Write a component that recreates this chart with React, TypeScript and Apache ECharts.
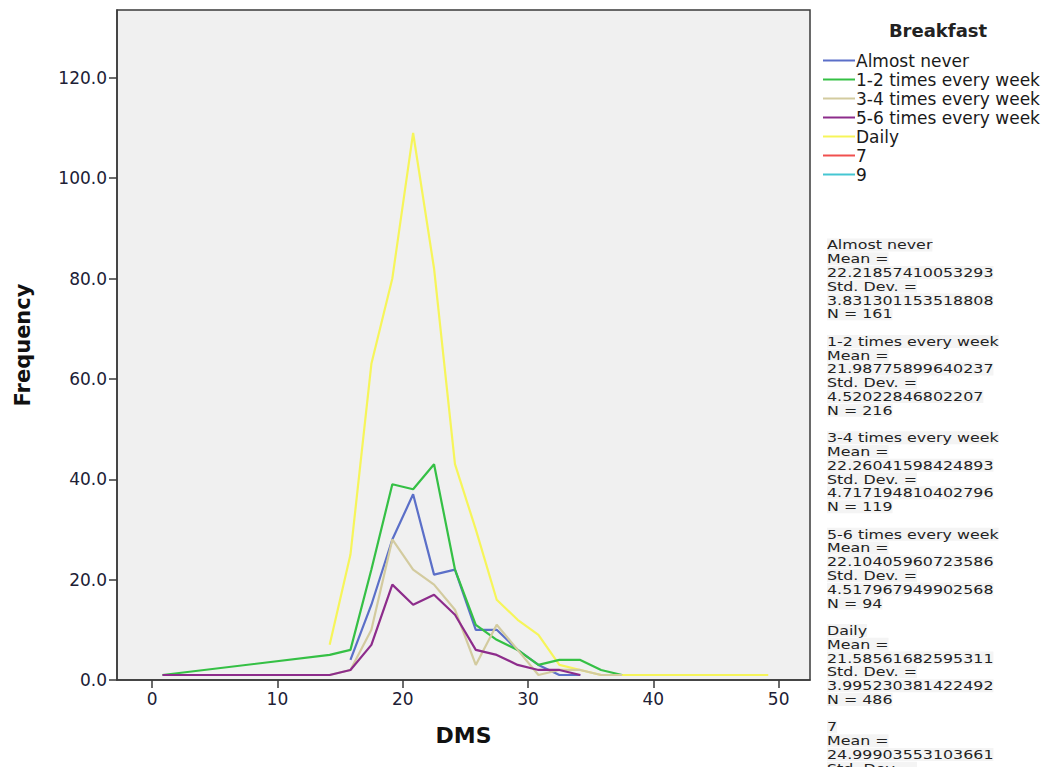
import React, { useEffect, useRef } from "react";
import * as echarts from "echarts";

// DMS bin centres (x values of the frequency polygon vertices)
const dmsBins = [0.83, 14.17, 15.83, 17.5, 19.17, 20.83, 22.5, 24.17, 25.83, 27.5, 29.17, 30.83, 32.5, 34.17, 35.83, 37.5, 49.17];

const seriesNames = ["Almost never", "1-2 times every week", "3-4 times every week", "5-6 times every week", "Daily", "7", "9"];
const seriesColors = ["#5b6fc8", "#35c045", "#d3cb9f", "#8d2c8b", "#f6f55a", "#f0504f", "#45c6d2"];

const almostNever = [null, null, 4, 15, 28, 37, 21, 22, 10, 10, 6, 3, 1, 1, null, null, null];
const oneTwoWeek = [1, 5, 6, 22, 39, 38, 43, 22, 11, 8, 6, 3, 4, 4, 2, 1, null];
const threeFourWeek = [null, 1, 2, 10, 28, 22, 19, 14, 3, 11, 6, 1, 2, 2, 1, 1, null];
const fiveSixWeek = [1, 1, 2, 7, 19, 15, 17, 13, 6, 5, 3, 2, 2, 1, null, null, null];
const daily = [null, 7, 25, 63, 80, 109, 82, 43, 30, 16, 12, 9, 3, 2, 1, 1, 1];
const seven: (number | null)[] = [];
const nine: (number | null)[] = [];

const xTicks = [0, 10, 20, 30, 40, 50];
const yTicks = [0, 20, 40, 60, 80, 100, 120];

// Summary statistics printed to the right of the chart
const statNames = ["Almost never", "1-2 times every week", "3-4 times every week", "5-6 times every week", "Daily", "7"];
const statMeans = ["22.21857410053293", "21.98775899640237", "22.26041598424893", "22.10405960723586", "21.58561682595311", "24.99903553103661"];
const statSDs = ["3.831301153518808", "4.52022846802207", "4.717194810402796", "4.517967949902568", "3.995230381422492", ""];
const statNs = ["161", "216", "119", "94", "486", ""];

const FONT = "DejaVu Sans";

export default function App() {
  const ref = useRef<HTMLDivElement>(null);

  useEffect(() => {
    if (!ref.current) return;
    const chart = echarts.init(ref.current, null, { renderer: "svg" });

    const allData = [almostNever, oneTwoWeek, threeFourWeek, fiveSixWeek, daily, seven, nine];
    const series = seriesNames.map((name, i) => ({
      name,
      type: "line",
      symbol: "none",
      connectNulls: true,
      color: seriesColors[i],
      lineStyle: { width: 2.2, color: seriesColors[i] },
      z: i === 4 ? 1 : 2,
      data: allData[i]
        .map((v, k) => (v === null || v === undefined ? null : [dmsBins[k], v]))
        .filter((p) => p !== null),
    }));

    // stats text lines
    const lines: string[] = [];
    statNames.forEach((n, i) => {
      lines.push(n);
      lines.push("Mean =");
      lines.push(statMeans[i]);
      lines.push("Std. Dev. =");
      if (statSDs[i]) {
        lines.push(statSDs[i]);
        lines.push("N = " + statNs[i]);
        lines.push("");
      }
    });
    const graphics = lines
      .map((t, idx) => ({ t, idx }))
      .filter((o) => o.t !== "")
      .map((o) => ({
        type: "text",
        x: 827,
        y: 245 + o.idx * 13.77,
        scaleX: 1.22,
        silent: true,
        style: {
          text: o.t,
          fontFamily: FONT,
          fontSize: 13,
          fill: "#222222",
          verticalAlign: "middle",
          align: "left",
          backgroundColor: "#f4f4f4",
        },
      }));

    const axisCol = "#3a3a3a";
    chart.setOption({
      animation: false,
      backgroundColor: "#ffffff",
      title: {
        text: "Breakfast",
        left: 933,
        top: 16,
        textAlign: "center",
        textStyle: { fontFamily: FONT, fontSize: 18, fontWeight: "bold", color: "#222" },
      },
      legend: {
        orient: "vertical",
        left: 818,
        top: 47,
        icon: "rect",
        itemWidth: 32,
        itemHeight: 2,
        itemGap: 2,
        data: seriesNames,
        textStyle: { fontFamily: FONT, fontSize: 17, color: "#1a1a1a", padding: [0, 0, 0, -4] },
      },
      grid: {
        left: 117,
        top: 10,
        right: 248,
        bottom: 87,
        show: true,
        backgroundColor: "#f0f0f0",
        borderColor: axisCol,
        borderWidth: 1.5,
      },
      xAxis: {
        type: "value",
        min: -2.8,
        max: 52.5,
        name: "DMS",
        nameLocation: "middle",
        nameGap: 44,
        nameTextStyle: { fontFamily: FONT, fontSize: 22, fontWeight: "bold", color: "#111" },
        axisLine: { show: true, onZero: false, lineStyle: { color: axisCol, width: 1.5 } },
        axisTick: { show: true, length: 8, customValues: xTicks, lineStyle: { color: axisCol, width: 1.5 } },
        axisLabel: { customValues: xTicks, fontFamily: FONT, fontSize: 17, color: "#202035", margin: 10 },
        splitLine: { show: false },
      },
      yAxis: {
        type: "value",
        min: 0,
        max: 133.5,
        name: "Frequency",
        nameLocation: "middle",
        nameRotate: 90,
        nameGap: 84,
        nameTextStyle: { fontFamily: FONT, fontSize: 21, fontWeight: "bold", color: "#111" },
        axisLine: { show: true, onZero: false, lineStyle: { color: axisCol, width: 1.5 } },
        axisTick: { show: true, length: 8, customValues: yTicks, lineStyle: { color: axisCol, width: 1.5 } },
        axisLabel: {
          customValues: yTicks,
          fontFamily: FONT,
          fontSize: 17,
          color: "#202035",
          margin: 10,
          formatter: (v: number) => v.toFixed(1),
        },
        splitLine: { show: false },
      },
      graphic: graphics,
      series,
    });

    return () => chart.dispose();
  }, []);

  return (
    <div
      ref={ref}
      style={{ position: "absolute", left: 0, top: 0, width: 1058, height: 767 }}
    />
  );
}
